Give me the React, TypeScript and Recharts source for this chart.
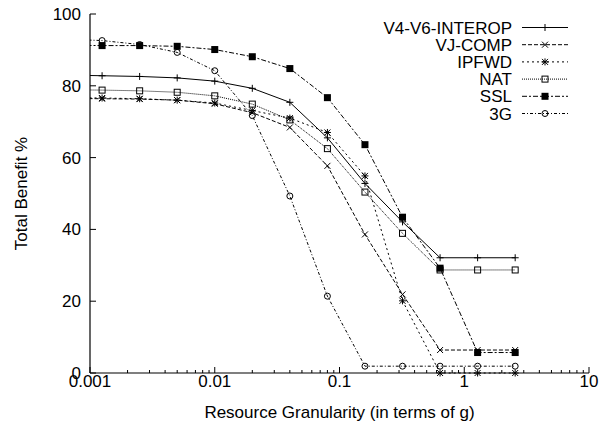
import React from 'react';
import { LineChart, Line, XAxis, YAxis, Legend } from 'recharts';

// x positions (g units). The first one lies left of the plot; it only shows as the line entering from the border.
const granularity = [0.000625, 0.00125, 0.0025, 0.005, 0.01, 0.02, 0.04, 0.08, 0.16, 0.32, 0.64, 1.28, 2.56];

const v4v6Interop = [83.0, 82.8, 82.6, 82.2, 81.3, 79.3, 75.4, 65.5, 52.8, 42.1, 32.1, 32.1, 32.1];
const vjComp = [76.5, 76.4, 76.3, 76.0, 75.0, 72.5, 68.4, 57.7, 38.6, 21.9, 6.4, 6.4, 6.4];
const ipfwd = [76.7, 76.6, 76.4, 76.0, 75.2, 73.1, 71.0, 67.0, 54.9, 20.1, 0, 0, 0];
const nat = [78.9, 78.8, 78.6, 78.2, 77.2, 74.9, 70.5, 62.5, 50.4, 38.9, 28.7, 28.7, 28.7];
const ssl = [91.3, 91.2, 91.2, 91.0, 90.1, 88.1, 84.8, 76.7, 63.6, 43.4, 29.2, 5.7, 5.7];
const threeG = [93.0, 92.6, 91.5, 89.3, 84.2, 71.7, 49.3, 21.4, 1.9, 1.9, 1.9, 1.9, 1.9];

const yTicks = [0, 20, 40, 60, 80, 100];
const xMajorTicks = [0.001, 0.01, 0.1, 1, 10];
const xTickLabels = ['0.001', '0.01', '0.1', '1', '10'];

const FONT = '"Liberation Sans", Arial, Helvetica, sans-serif';
const FS = 17;

type MarkerKind = 'plus' | 'cross' | 'star' | 'square' | 'filledSquare' | 'circle';

const SERIES: { key: string; name: string; values: number[]; dash?: string; marker: MarkerKind }[] = [
  { key: 'v4', name: 'V4-V6-INTEROP', values: v4v6Interop, marker: 'plus' },
  { key: 'vj', name: 'VJ-COMP', values: vjComp, dash: '4 2', marker: 'cross' },
  { key: 'ipfwd', name: 'IPFWD', values: ipfwd, dash: '2 3', marker: 'star' },
  { key: 'nat', name: 'NAT', values: nat, dash: '1 1', marker: 'square' },
  { key: 'ssl', name: 'SSL', values: ssl, dash: '5 2 2 2', marker: 'filledSquare' },
  { key: 'g3', name: '3G', values: threeG, dash: '3 2 1 2', marker: 'circle' },
];

const data = granularity.map((g, i) => {
  const row: Record<string, number> = { g };
  SERIES.forEach((s) => { row[s.key] = s.values[i]; });
  return row;
});

// major + minor ticks for the log axis (2..9 per decade)
const xTicks: number[] = [];
xMajorTicks.slice(0, -1).forEach((d) => {
  for (let m = 1; m < 10; m++) xTicks.push(+(m * d).toPrecision(6));
});
xTicks.push(10);

const majorLabel = (v: number) => {
  const i = xMajorTicks.findIndex((m) => Math.abs(m - v) < m * 1e-6);
  return i >= 0 ? xTickLabels[i] : null;
};

function Marker({ kind, cx, cy }: { kind: MarkerKind; cx: number; cy: number }) {
  const s = 3.5;
  const st = { stroke: '#000', strokeWidth: 1 };
  switch (kind) {
    case 'plus':
      return (
        <g {...st}>
          <line x1={cx - s} y1={cy} x2={cx + s} y2={cy} />
          <line x1={cx} y1={cy - s} x2={cx} y2={cy + s} />
        </g>
      );
    case 'cross':
      return (
        <g {...st}>
          <line x1={cx - 3} y1={cy - 3} x2={cx + 3} y2={cy + 3} />
          <line x1={cx - 3} y1={cy + 3} x2={cx + 3} y2={cy - 3} />
        </g>
      );
    case 'star':
      return (
        <g {...st}>
          <line x1={cx - 3} y1={cy - 3} x2={cx + 3} y2={cy + 3} />
          <line x1={cx - 3} y1={cy + 3} x2={cx + 3} y2={cy - 3} />
          <line x1={cx - s} y1={cy} x2={cx + s} y2={cy} />
          <line x1={cx} y1={cy - s} x2={cx} y2={cy + s} />
        </g>
      );
    case 'square':
      return <rect x={cx - 3} y={cy - 3} width={6} height={6} fill="none" {...st} />;
    case 'filledSquare':
      return <rect x={cx - 3.5} y={cy - 3.5} width={7} height={7} fill="#000" />;
    default:
      return <circle cx={cx} cy={cy} r={3} fill="none" {...st} />;
  }
}

function XTick({ x, y, payload, side }: any) {
  const label = majorLabel(payload.value);
  const len = label ? 6 : 3;
  const dir = side === 'top' ? 1 : -1;
  return (
    <g>
      <line x1={x} y1={y} x2={x} y2={y + dir * len} stroke="#000" strokeWidth={1} />
      {side !== 'top' && label && (
        <text x={x} y={y + 14} textAnchor="middle" fontSize={FS} fontFamily={FONT} fill="#000">
          {label}
        </text>
      )}
    </g>
  );
}

function YTick({ x, y, payload, side }: any) {
  const dir = side === 'right' ? -1 : 1;
  return (
    <g>
      <line x1={x} y1={y} x2={x + dir * 6} y2={y} stroke="#000" strokeWidth={1} />
      {side !== 'right' && (
        <text x={x - 9} y={y + 6} textAnchor="end" fontSize={FS} fontFamily={FONT} fill="#000">
          {payload.value}
        </text>
      )}
    </g>
  );
}

function KeyBox() {
  return (
    <svg width={609} height={130} style={{ display: 'block' }}>
      {SERIES.map((s, i) => {
        const cy = 27.5 + i * 17.2;
        return (
          <g key={s.key}>
            <text x={512} y={cy + 6} textAnchor="end" fontSize={FS} fontFamily={FONT} fill="#000">
              {s.name}
            </text>
            <line x1={522} y1={cy} x2={568} y2={cy} stroke="#000" strokeWidth={1} strokeDasharray={s.dash} />
            <Marker kind={s.marker} cx={545} cy={cy} />
          </g>
        );
      })}
    </svg>
  );
}

const axisLine = { stroke: '#000', strokeWidth: 1.2 };

export default function App() {
  return (
    <div style={{ position: 'absolute', left: 0, top: 0, width: 609, height: 426, background: '#fff' }}>
      <LineChart width={609} height={426} data={data} margin={{ top: 14, right: 20, bottom: 0, left: 0 }}>
        <XAxis
          xAxisId="b"
          dataKey="g"
          type="number"
          scale="log"
          domain={[0.001, 10]}
          allowDataOverflow
          ticks={xTicks}
          interval={0}
          tickSize={0}
          tickMargin={0}
          tickLine={false}
          axisLine={axisLine}
          tick={<XTick side="bottom" />}
          height={53}
          label={{
            content: (p: any) => {
              const vb = p.viewBox || { x: 90, y: 373, width: 499 };
              return (
                <text x={vb.x + vb.width / 2} y={vb.y + 45} textAnchor="middle" fontSize={FS} fontFamily={FONT} fill="#000">
                  Resource Granularity (in terms of g)
                </text>
              );
            },
          }}
        />
        <XAxis
          xAxisId="t"
          orientation="top"
          dataKey="g"
          type="number"
          scale="log"
          domain={[0.001, 10]}
          allowDataOverflow
          ticks={xTicks}
          interval={0}
          tickSize={0}
          tickMargin={0}
          tickLine={false}
          axisLine={axisLine}
          tick={<XTick side="top" />}
          height={0}
        />
        <YAxis
          yAxisId="l"
          type="number"
          domain={[0, 100]}
          ticks={yTicks}
          interval={0}
          tickSize={0}
          tickMargin={0}
          tickLine={false}
          axisLine={axisLine}
          tick={<YTick side="left" />}
          width={90}
          label={{
            content: (p: any) => {
              const vb = p.viewBox || { x: 0, y: 14, height: 359 };
              const cx = vb.x + 21;
              const cy = vb.y + vb.height / 2;
              return (
                <text x={cx} y={cy} transform={`rotate(-90 ${cx} ${cy})`} dy={6} textAnchor="middle" fontSize={FS} fontFamily={FONT} fill="#000">
                  Total Benefit %
                </text>
              );
            },
          }}
        />
        <YAxis
          yAxisId="r"
          orientation="right"
          type="number"
          domain={[0, 100]}
          ticks={yTicks}
          interval={0}
          tickSize={0}
          tickMargin={0}
          tickLine={false}
          axisLine={axisLine}
          tick={<YTick side="right" />}
          width={0}
        />
        <Legend
          layout="horizontal"
          verticalAlign="middle"
          align="center"
          wrapperStyle={{ position: 'absolute', left: 0, top: 0, width: 609, height: 130, margin: 0, pointerEvents: 'none' }}
          content={() => <KeyBox />}
        />
        {SERIES.map((s) => (
          <Line
            key={s.key}
            xAxisId="b"
            yAxisId="l"
            type="linear"
            dataKey={s.key}
            name={s.name}
            stroke="#000"
            strokeWidth={1}
            strokeDasharray={s.dash}
            isAnimationActive={false}
            dot={(p: any) =>
              p.payload.g < 0.001 ? (
                <g key={`${s.key}-${p.index}`} />
              ) : (
                <Marker key={`${s.key}-${p.index}`} kind={s.marker} cx={p.cx} cy={p.cy} />
              )
            }
          />
        ))}
      </LineChart>
    </div>
  );
}
